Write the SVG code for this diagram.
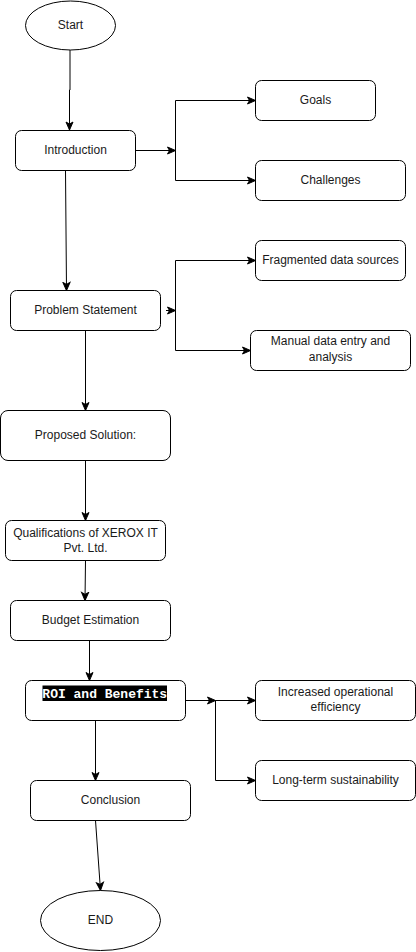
<svg xmlns="http://www.w3.org/2000/svg" width="416" height="952" viewBox="0 0 416 952">
<style>
.n{fill:#fff;stroke:#000;stroke-width:1}
.t{font-family:"Liberation Sans",Arial,sans-serif;font-size:12px;fill:#1a1a1a;text-anchor:middle}
.c{fill:none;stroke:#000;stroke-width:1}
.m{font-family:"Liberation Mono","Courier New",monospace;font-size:13px;font-weight:bold;fill:#fff;text-anchor:middle}
</style>
<defs>
<marker id="a" markerUnits="userSpaceOnUse" markerWidth="10" markerHeight="10" viewBox="0 0 10 10" refX="9" refY="5" orient="auto">
<path d="M1,1.5 L9,5 L1,8.5 L3,5 Z" fill="#000" stroke="#000" stroke-width="1"/>
</marker>
</defs>
<rect width="416" height="952" fill="#fff"/>
<g id="connectors">
<path class="c" d="M70,50 V90 H69.5 V130" marker-end="url(#a)"/>
<path class="c" d="M135.5,150.5 H175.5" marker-end="url(#a)"/>
<path class="c" d="M175.5,150.5 V100.5 H255.5" marker-end="url(#a)"/>
<path class="c" d="M175.5,150.5 V180.5 H255.5" marker-end="url(#a)"/>
<path class="c" d="M65.5,170.5 L66.5,290.5" marker-end="url(#a)"/>
<path class="c" d="M166,310.5 H175.5" marker-end="url(#a)"/>
<path class="c" d="M175.5,310.5 V260.5 H255.5" marker-end="url(#a)"/>
<path class="c" d="M175.5,310.5 V350.5 H250.5" marker-end="url(#a)"/>
<path class="c" d="M85.5,330.5 V410.5" marker-end="url(#a)"/>
<path class="c" d="M85.5,460.5 V520.5" marker-end="url(#a)"/>
<path class="c" d="M85.5,560.5 L85,600.5" marker-end="url(#a)"/>
<path class="c" d="M89.5,640.5 V680.5" marker-end="url(#a)"/>
<path class="c" d="M185.5,700.5 H215.5" marker-end="url(#a)"/>
<path class="c" d="M215.5,700.5 H255.5" marker-end="url(#a)"/>
<path class="c" d="M215.5,700.5 V780.5 H255.5" marker-end="url(#a)"/>
<path class="c" d="M95.5,720.5 V780.5" marker-end="url(#a)"/>
<path class="c" d="M95.5,820.5 L100.5,890.5" marker-end="url(#a)"/>
</g>
<g id="start"><ellipse class="n" cx="70.5" cy="25.5" rx="45" ry="24.5"/><text class="t" x="70.5" y="28.5">Start</text></g>
<g id="introduction"><rect class="n" x="15.5" y="130.5" width="120" height="40" rx="6"/><text class="t" x="75.5" y="153.5">Introduction</text></g>
<g id="goals"><rect class="n" x="255.5" y="80.5" width="120" height="40" rx="6"/><text class="t" x="315.5" y="103.5">Goals</text></g>
<g id="challenges"><rect class="n" x="255.5" y="160.5" width="150" height="40" rx="6"/><text class="t" x="330.5" y="183.5">Challenges</text></g>
<g id="problem"><rect class="n" x="10.5" y="290.5" width="150" height="40" rx="6"/><text class="t" x="85.5" y="313.5">Problem Statement</text></g>
<g id="fragmented"><rect class="n" x="255.5" y="240.5" width="150" height="40" rx="6"/><text class="t" x="330.5" y="263.5">Fragmented data sources</text></g>
<g id="manual"><rect class="n" x="250.5" y="330.5" width="160" height="40" rx="6"/><text class="t" x="330.5" y="345">Manual data entry and</text><text class="t" x="330.5" y="360.5">analysis</text></g>
<g id="proposed"><rect class="n" x="0.5" y="410.5" width="170" height="50" rx="7.5"/><text class="t" x="85.5" y="438.5">Proposed Solution:</text></g>
<g id="qualifications"><rect class="n" x="5.5" y="520.5" width="160" height="40" rx="6"/><text class="t" x="85.5" y="536.5">Qualifications of XEROX IT</text><text class="t" x="85.5" y="551.5">Pvt. Ltd.</text></g>
<g id="budget"><rect class="n" x="10.5" y="600.5" width="160" height="40" rx="6"/><text class="t" x="90.5" y="623.5">Budget Estimation</text></g>
<g id="roi"><rect class="n" x="25.5" y="680.5" width="160" height="40" rx="6"/><rect x="42.5" y="685.5" width="124.5" height="15.5" fill="#000"/><text class="m" x="104.75" y="697.5">ROI and Benefits</text></g>
<g id="efficiency"><rect class="n" x="255.5" y="680.5" width="160" height="40" rx="6"/><text class="t" x="335.5" y="695.5">Increased operational</text><text class="t" x="335.5" y="711">efficiency</text></g>
<g id="sustainability"><rect class="n" x="255.5" y="760.5" width="160" height="40" rx="6"/><text class="t" x="335.5" y="783.5">Long-term sustainability</text></g>
<g id="conclusion"><rect class="n" x="30.5" y="780.5" width="160" height="40" rx="6"/><text class="t" x="110.5" y="803.5">Conclusion</text></g>
<g id="end"><ellipse class="n" cx="100.5" cy="920.5" rx="60" ry="30"/><text class="t" x="100.5" y="923.5">END</text></g>
</svg>
